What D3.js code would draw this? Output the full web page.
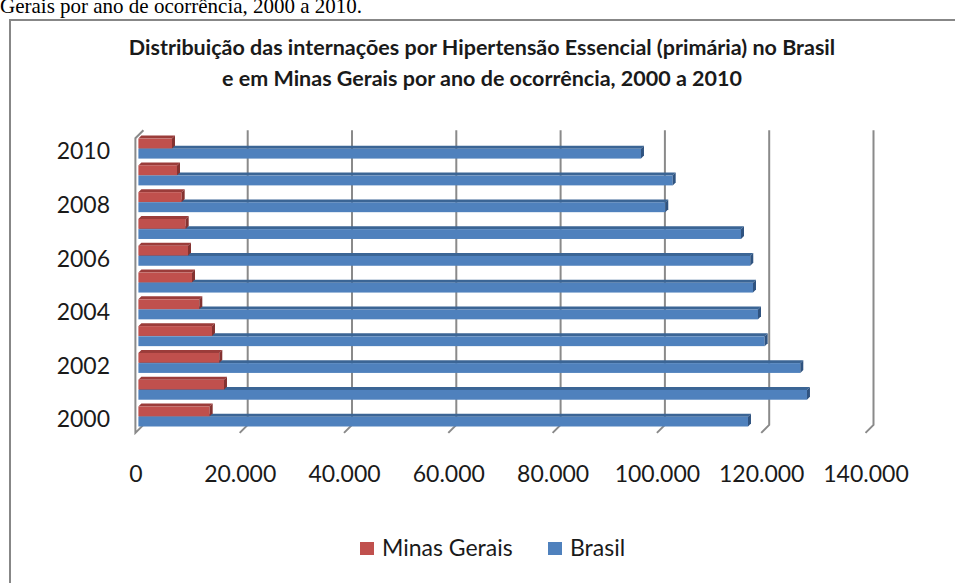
<!DOCTYPE html>
<html>
<head>
<meta charset="utf-8">
<script src="https://cdn.jsdelivr.net/npm/d3@7"></script>
<style>
  body { margin: 0; background: #fff; }
  svg { display: block; }
  text { font-family: Lato, "Open Sans", sans-serif; fill: #1a1a1a; }
</style>
</head>
<body>
<svg id="chart"></svg>
<script>
// data
const years = [2010, 2009, 2008, 2007, 2006, 2005, 2004, 2003, 2002, 2001, 2000];
const minasGerais = [6440, 7400, 8300, 9070, 9510, 10280, 11680, 14110, 15510, 16410, 13670];
const brasil = [96370, 102450, 101030, 115550, 117330, 117850, 118810, 120090, 126920, 128200, 116890];
const seriesNames = ["Minas Gerais", "Brasil"];
const xTicks = [0, 20000, 40000, 60000, 80000, 100000, 120000, 140000];
const yearLabels = [2010, 2008, 2006, 2004, 2002, 2000];
const titleLines = [
  "Distribuição das internações por Hipertensão Essencial (primária) no Brasil",
  "e em Minas Gerais por ano de ocorrência, 2000 a 2010"
];
const captionText = "Gerais por ano de ocorrência, 2000 a 2010.";

const colors = {
  "Minas Gerais": {front: "#c0504d", top: "#9b3c3a", side: "#843230"},
  "Brasil": {front: "#4f81bd", top: "#3b6595", side: "#2f5380"}
};

const W = 955, H = 583;
const depth = 8;      // wall depth (oblique offset)
const barShift = 3;   // bar front plane offset
const barDepth = 3;

const svg = d3.select("#chart").attr("width", W).attr("height", H);

// caption cut at top of page
svg.append("text")
  .attr("x", 0).attr("y", 13)
  .style("font-family", "'Liberation Serif', serif")
  .style("font-size", "21px")
  .style("fill", "#000")
  .text(captionText);

// chart frame
svg.append("path")
  .attr("d", `M10,${H + 5} V20 H${W + 5}`)
  .attr("fill", "none")
  .attr("stroke", "#878787")
  .attr("stroke-width", 2);

// title
svg.append("g").selectAll("text")
  .data(titleLines)
  .join("text")
  .attr("x", 482)
  .attr("y", (d, i) => 55 + i * 31)
  .attr("text-anchor", "middle")
  .style("font-size", "21.5px")
  .style("font-weight", "bold")
  .text(d => d);

// scales (front plane)
const x = d3.scaleLinear().domain([0, 140000]).range([135.4, 865.5]);
const y = d3.scaleBand().domain(years).range([138.2, 432.9]);
const inner = d3.scaleBand().domain(seriesNames).range([-10, 10]).paddingInner(0.04);

const top0 = y.range()[0], bot0 = y.range()[1];

// left wall + gridlines
const grid = svg.append("g").attr("fill", "none").attr("stroke", "#8a8a8a").attr("stroke-width", 2);
grid.append("path")
  .attr("d", `M${x(0) + depth},${top0 - depth} L${x(0)},${top0} V${bot0} L${x(0) + depth},${bot0 - depth}`);
grid.selectAll(".gl")
  .data(xTicks.slice(1))
  .join("path")
  .attr("class", "gl")
  .attr("d", d => `M${x(d) + depth},${top0 - depth} V${bot0 - depth} L${x(d)},${bot0}`);

// bars
const rows = years.map((yr, i) => ({year: yr, values: [
  {name: "Minas Gerais", v: minasGerais[i]},
  {name: "Brasil", v: brasil[i]}
]}));

const barsG = svg.append("g");
rows.forEach(r => {
  // draw Brasil first so the red bar sits over its top face
  [r.values[1], r.values[0]].forEach(s => {
    const c = colors[s.name];
    const x0 = x(0) + barShift, x1 = x(s.v) + barShift;
    const yt = y(r.year) + y.bandwidth() / 2 - barShift + inner(s.name);
    const h = inner.bandwidth();
    const g = barsG.append("g");
    g.append("path")
      .attr("d", `M${x0},${yt} L${x0 + barDepth},${yt - barDepth} L${x1 + barDepth},${yt - barDepth} L${x1},${yt} Z`)
      .attr("fill", c.top);
    g.append("rect")
      .attr("x", x0).attr("y", yt)
      .attr("width", x1 - x0).attr("height", h)
      .attr("fill", c.front);
    g.append("path")
      .attr("d", `M${x1},${yt} L${x1 + barDepth},${yt - barDepth} L${x1 + barDepth},${yt + h - barDepth} L${x1},${yt + h} Z`)
      .attr("fill", c.side);
  });
});

// value axis labels
const xAxis = d3.axisBottom(x)
  .tickValues(xTicks)
  .tickSize(0)
  .tickPadding(0)
  .tickFormat(d => d === 0 ? "0" : d3.format(",")(d).replace(/,/g, "."));
const xg = svg.append("g").attr("transform", "translate(0,482)").call(xAxis);
xg.select(".domain").remove();
xg.selectAll("text").attr("dy", 0).attr("y", 0)
  .style("font-family", "Lato, sans-serif").style("font-size", "23px").attr("fill", "#1a1a1a");

// category labels (every other year)
const yAxis = d3.axisLeft(y).tickValues(yearLabels).tickSize(0).tickPadding(0);
const yg = svg.append("g").attr("transform", "translate(110,0)").call(yAxis);
yg.select(".domain").remove();
yg.selectAll("text").attr("x", 0).attr("dy", "0.34em")
  .style("font-family", "Lato, sans-serif").style("font-size", "23px").attr("fill", "#1a1a1a");

// legend
const legend = svg.append("g");
const legendPos = [{x: 360, name: "Minas Gerais"}, {x: 548, name: "Brasil"}];
legendPos.forEach(l => {
  legend.append("rect").attr("x", l.x).attr("y", 542).attr("width", 14).attr("height", 13)
    .attr("fill", colors[l.name].front);
  legend.append("text").attr("x", l.x + 22).attr("y", 556)
    .style("font-size", "23px").text(l.name);
});
</script>
</body>
</html>
